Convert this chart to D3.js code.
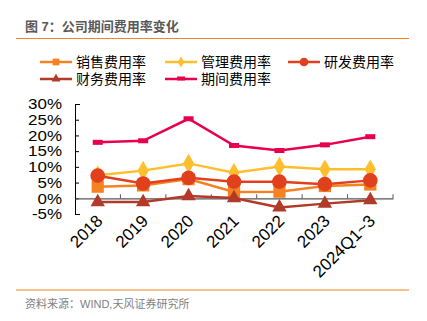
<!DOCTYPE html>
<html>
<head>
<meta charset="utf-8">
<script src="https://cdn.jsdelivr.net/npm/d3@7"></script>
<style>
body{margin:0;background:#fff;}
svg{display:block;font-family:"Liberation Sans","Noto Sans CJK SC",sans-serif;}
</style>
</head>
<body>
<svg id="chart"></svg>
<script>
// data
const categories = ["2018","2019","2020","2021","2022","2023","2024Q1~3"];
const salesRate = [3.7, 4.1, 6.1, 2.0, 2.1, 3.9, 4.4];      // 销售费用率
const adminRate = [7.3, 8.8, 11.1, 8.1, 10.1, 9.2, 9.2];    // 管理费用率
const rdRate = [7.2, 4.7, 6.5, 5.3, 5.3, 4.5, 5.7];         // 研发费用率
const finRate = [-1.2, -1.2, 0.7, 0.1, -2.9, -1.7, -0.6];   // 财务费用率
const periodRate = [17.8, 18.3, 25.3, 16.8, 15.2, 17.0, 19.6]; // 期间费用率
const yTicks = [-5, 0, 5, 10, 15, 20, 25, 30];

const w = 427, h = 321;
const plotLeft = 75, plotRight = 393, plotTop = 104, plotBottom = 214;

let svg = d3.select("#chart").attr("width", w).attr("height", h);

// title + rules
svg.append("text").attr("x", 25).attr("y", 31).attr("fill", "#595959")
  .attr("font-size", 13).attr("font-weight", "bold").text("图 7：公司期间费用率变化");
svg.append("line").attr("x1", 16).attr("x2", 409).attr("y1", 38.5).attr("y2", 38.5)
  .attr("stroke", "#F58220").attr("stroke-width", 1.2);
svg.append("line").attr("x1", 16).attr("x2", 409).attr("y1", 290).attr("y2", 290)
  .attr("stroke", "#F58220").attr("stroke-width", 1.2);
svg.append("text").attr("x", 25).attr("y", 308).attr("fill", "#7f7f7f")
  .attr("font-size", 11).text("资料来源：WIND,天风证券研究所");

let xScale = d3.scaleBand().domain(categories).range([plotLeft, plotRight]);
let yScale = d3.scaleLinear().domain([-5, 30]).range([plotBottom, plotTop]);

const series = [
  {name: "销售费用率", values: salesRate, color: "#F58220", shape: d3.symbolSquare, size: 150, lsize: 45},
  {name: "管理费用率", values: adminRate, color: "#FFBE2E", shape: d3.symbolDiamond, size: 110, lsize: 35},
  {name: "研发费用率", values: rdRate, color: "#E0401C", shape: d3.symbolCircle, size: 170, lsize: 60},
  {name: "财务费用率", values: finRate, color: "#B23A28", shape: d3.symbolTriangle, size: 90, lsize: 35},
  {name: "期间费用率", values: periodRate, color: "#E8004F", shape: "dash", size: 0, lsize: 0}
];

// y axis, ticks pointing inside
let yAxis = d3.axisLeft(yScale).tickValues(yTicks).tickFormat(d => d + "%")
  .tickSizeInner(-4).tickSizeOuter(-5).tickPadding(11.5);
let gy = svg.append("g").attr("transform", "translate(" + plotLeft + ",0)").call(yAxis);
gy.selectAll("text").attr("font-size", 15).attr("fill", "#000")
  .attr("transform", "scale(1.13,1)")
  .style("font-family", "Liberation Sans, sans-serif");
gy.selectAll("line,path").attr("stroke", "#000").attr("stroke-width", 1);

// zero line with ticks between categories
let xAxis = d3.axisBottom(xScale).tickSize(0).tickFormat("");
let gx = svg.append("g").attr("transform", "translate(0," + yScale(0) + ")").call(xAxis);
gx.select("path").attr("stroke", "#555").attr("stroke-width", 1.2);
let bounds = categories.map(c => xScale(c)).concat([plotRight]);
svg.selectAll(".xtick").data(bounds.slice(1)).enter().append("line")
  .attr("x1", d => d).attr("x2", d => d)
  .attr("y1", yScale(0)).attr("y2", yScale(0) - 4)
  .attr("stroke", "#555");

// x labels rotated
svg.selectAll(".xlab").data(categories).enter().append("text")
  .attr("text-anchor", "end").attr("font-size", 17)
  .attr("transform", d => "translate(" + (xScale(d) + xScale.bandwidth() / 2 + 6) + "," + (plotBottom + 8) + ") rotate(-45)")
  .text(d => d);

let cx = d => xScale(d) + xScale.bandwidth() / 2;
let line = d3.line().x((v, i) => cx(categories[i])).y(v => yScale(v));

// draw order: period, admin, sales, rd, fin
const order = [4, 1, 0, 2, 3];
order.forEach(k => {
  let s = series[k];
  svg.append("path").datum(s.values).attr("d", line).attr("fill", "none")
    .attr("stroke", s.color).attr("stroke-width", 2.5);
  if (s.shape === "dash") {
    svg.selectAll(null).data(s.values).enter().append("rect")
      .attr("x", (v, i) => cx(categories[i]) - 5).attr("y", v => yScale(v) - 2.5)
      .attr("width", 10).attr("height", 5).attr("fill", s.color);
  } else {
    svg.selectAll(null).data(s.values).enter().append("path")
      .attr("d", d3.symbol().type(s.shape).size(s.size))
      .attr("transform", (v, i) => "translate(" + cx(categories[i]) + "," + yScale(v) + ")")
      .attr("fill", s.color);
  }
});

// legend
const legendPos = [[40, 62], [165, 62], [288, 62], [40, 79], [165, 79]];
series.forEach((s, i) => {
  let [lx, ly] = legendPos[i];
  let g = svg.append("g");
  g.append("line").attr("x1", lx).attr("x2", lx + 32).attr("y1", ly).attr("y2", ly)
    .attr("stroke", s.color).attr("stroke-width", 2.5);
  if (s.shape === "dash") {
    g.append("rect").attr("x", lx + 12).attr("y", ly - 2.5).attr("width", 8).attr("height", 4).attr("fill", s.color);
  } else {
    g.append("path").attr("d", d3.symbol().type(s.shape).size(s.lsize))
      .attr("transform", "translate(" + (lx + 16) + "," + ly + ")").attr("fill", s.color);
  }
  g.append("text").attr("x", lx + 36).attr("y", ly + 5).attr("font-size", 14)
    .attr("fill", "#000").text(s.name);
});
</script>
</body>
</html>
